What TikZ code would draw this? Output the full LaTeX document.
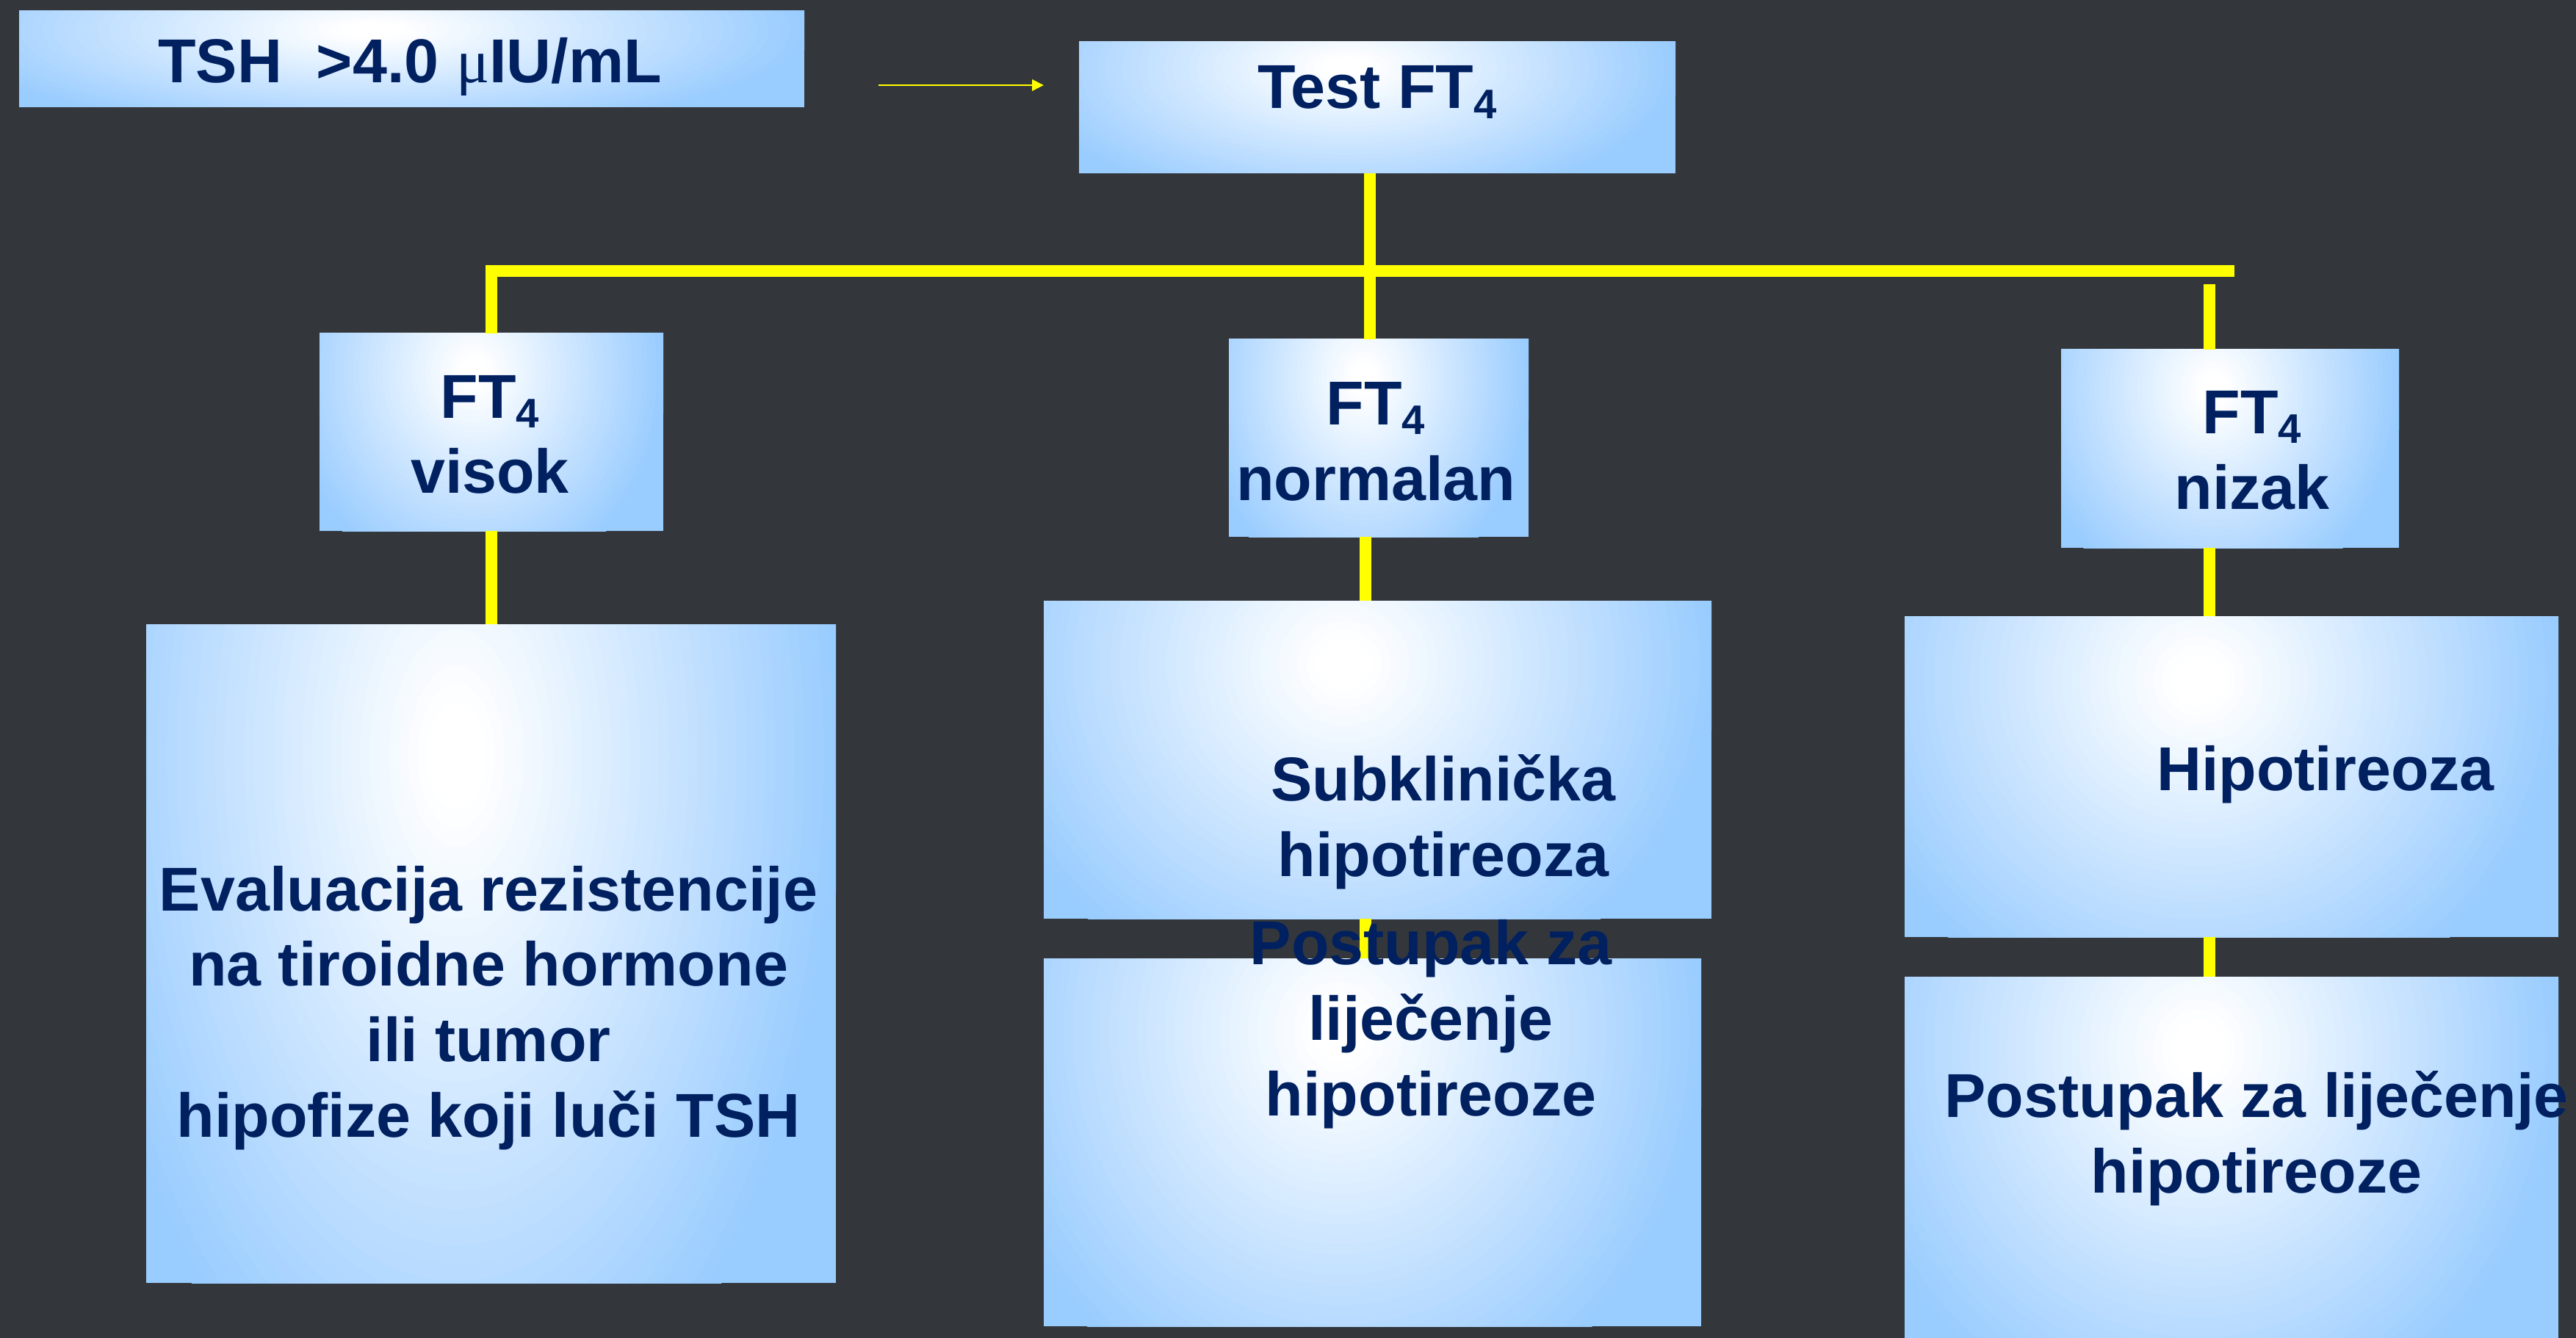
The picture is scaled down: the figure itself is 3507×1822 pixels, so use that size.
\documentclass[tikz,border=0pt]{standalone}
\usepackage{fontspec}
\setmainfont{Liberation Sans}
\newfontfamily\serifmu{Liberation Serif}
\usetikzlibrary{fit,arrows.meta}
\definecolor{bg}{RGB}{51,55,59}
\definecolor{boxblue}{RGB}{153,204,255}
\definecolor{navy}{RGB}{0,32,96}
\definecolor{ylw}{RGB}{255,255,0}
\newcommand\FTsub{FT\raisebox{-3.7pt}{\fontsize{16}{16}\selectfont 4}}
% gradient box: name, x1, y1, x2, y2
\newcommand\gradbox[5]{%
  \node[fit={(#2,#3) (#4,#5)}, inner sep=0pt, outer sep=0pt, fill=boxblue] (#1) {};
  \begin{scope}
    \clip (#2,#3) rectangle (#4,#5);
    \pgfmathsetmacro\gcx{#2+0.45*(#4-#2)}
    \pgfmathsetmacro\gcy{#3+0.2*(#5-#3)}
    \pgfmathsetmacro\grx{0.56*(#4-#2)}
    \pgfmathsetmacro\gry{1.1*(#5-#3)}
    \foreach \gk in {40,39,...,1}{
      \pgfmathsetmacro\gd{\gk/40}
      \pgfmathsetmacro\gp{max(0,min(100,100*(\gd-0.08)/0.92))}
      \fill[boxblue!\gp!white] (\gcx,\gcy) ellipse [x radius={\gd*\grx}, y radius={\gd*\gry}];
    }
  \end{scope}
}
\begin{document}
\begin{tikzpicture}[x=0.01cm,y=-0.01cm,
  lbl/.style={text=navy, font=\fontsize{24}{29.15}\selectfont\bfseries, align=center, inner sep=0pt, anchor=base},
  yline/.style={draw=ylw, line width=4.55pt},
  thinarrow/.style={draw=ylw, line width=0.75pt, -{Triangle[length=4.5pt,width=4.3pt]}}]
\fill[bg] (0,0) rectangle (3507,1822);
\useasboundingbox (0,0) rectangle (3507,1822);
% boxes
\gradbox{tshbox}{26}{15}{1095}{146}
\gradbox{testbox}{1469}{57}{2281}{236}
\gradbox{visokbox}{435}{454}{903}{723}
\gradbox{normbox}{1673}{462}{2081}{731}
\gradbox{nizbox}{2806}{476}{3266}{746}
\gradbox{evalbox}{199}{850}{1138}{1747}
\gradbox{subkbox}{1421}{818}{2330}{1251}
\gradbox{post1box}{1421}{1305}{2316}{1806}
\gradbox{hipobox}{2593}{839}{3483}{1276}
\gradbox{post2box}{2593}{1330}{3483}{1822}
% connectors
\coordinate (a1) at (1196,116);
\coordinate (a2) at (1421,116);
\draw[thinarrow] (a1) -- (a2);
\coordinate (hr) at (3042,369);
\coordinate (hc) at (669,369);
\draw[yline, line join=miter] (hr) -- (hc) -- (visokbox.north);
\draw[yline] (visokbox.south) -- (visokbox.south |- evalbox.north);
\coordinate (mx) at (1865,300);
\coordinate (mx2) at (1859,800);
\draw[yline] (testbox.south -| mx) -- (normbox.north -| mx);
\draw[yline] (normbox.south -| mx2) -- (subkbox.north -| mx2);
\draw[yline] (subkbox.south -| mx2) -- (post1box.north -| mx2);
\coordinate (rx) at (3008,387);
\draw[yline] (rx) -- (nizbox.north -| rx);
\draw[yline] (nizbox.south -| rx) -- (hipobox.north -| rx);
\draw[yline] (hipobox.south -| rx) -- (post2box.north -| rx);
% texts (multi-line nodes anchored at the baseline of their last line)
\node[lbl] (ttsh) at (558,113) {TSH\ \ {>}4.0 {\serifmu\mdseries μ}IU/mL};
\node[lbl] (ttest) at (1875,148) {Test \FTsub};
\node[lbl] (tvisok) at (667,672) {\FTsub\\visok};
\node[lbl] (tnorm) at (1873,681) {\FTsub\\normalan};
\node[lbl] (tniz) at (3066,693) {\FTsub\\nizak};
\node[lbl] (teval) at (665,1548) {Evaluacija rezistencije\\na tiroidne hormone\\ili tumor\\hipofize koji luči TSH};
\node[lbl] (tsubk) at (1965,1193) {Subklinička\\hipotireoza};
\node[lbl] (tpost1) at (1948,1519) {Postupak za\\liječenje\\hipotireoze};
\node[lbl] (thipo) at (3166,1076) {Hipotireoza};
\node[lbl] (tpost2) at (3072,1624) {Postupak za liječenje\\hipotireoze};
\end{tikzpicture}
\end{document}
